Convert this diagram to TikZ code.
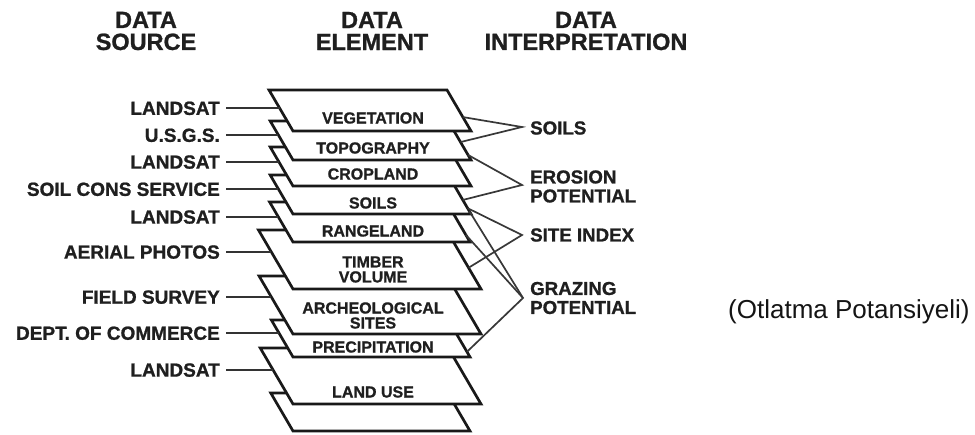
\documentclass[tikz,border=0pt]{standalone}
\usepackage{fontspec}
\setmainfont{Liberation Sans}
\newfontfamily\heavy{Liberation Sans}[BoldFeatures={FakeBold=1}]
\usetikzlibrary{calc}

% one map layer: name, top y, bottom y, width, label y, label text
\newcommand\maplayer[6]{%
  \pgfmathsetmacro\layerh{#3-#2}%
  \coordinate (#1-bl) at (293,#3);
  \coordinate (#1-br) at (293+#4,#3);
  \coordinate (#1-tl) at (293-0.585*\layerh,#2);
  \coordinate (#1-tr) at (293-0.585*\layerh+#4,#2);
  \draw[layerline] (#1-tl) -- (#1-tr) -- (#1-br) -- (#1-bl) -- cycle;
  \node[layertext] (#1) at (373,#5) {#6};
}

\begin{document}
\begin{tikzpicture}[x=1pt,y=-1pt,
  layerline/.style={draw=black!90, line width=2.7pt, fill=white, line join=miter},
  layertext/.style={font=\heavy\bfseries\fontsize{16}{15}\selectfont, align=center, text=black!88, inner sep=0pt},
  srctext/.style={font=\heavy\bfseries\fontsize{19}{19}\selectfont, text=black!88, inner sep=0pt, anchor=east, text height=13.6pt, text depth=0pt},
  srcline/.style={draw=black!80, line width=1.8pt},
  outtext/.style={font=\heavy\bfseries\fontsize{18.7}{19}\selectfont, text=black!88, inner sep=0pt, anchor=west, align=left},
  linkline/.style={draw=black!78, line width=1.7pt, line join=miter},
  headtext/.style={font=\heavy\bfseries\fontsize{23.5}{22}\selectfont, text=black!88, align=center, inner sep=0pt},
]
\fill[white] (0,0) rectangle (975,434);
\useasboundingbox (0,0) rectangle (975,434);

% column headings
\node[headtext] (hsrc) at (146,31) {DATA\\SOURCE};
\node[headtext] (helem) at (372,31) {DATA\\ELEMENT};
\node[headtext] (hint) at (586,31) {DATA\\INTERPRETATION};

% the stack of layers, lowest first
\maplayer{blank}{393}{431}{177}{412}{}
\maplayer{landuse}{348}{404}{188}{392}{LAND USE}
\maplayer{precip}{320}{357}{177}{347}{PRECIPITATION}
\maplayer{arch}{276}{334}{188}{315.5}{ARCHEOLOGICAL\\SITES}
\maplayer{timber}{230}{289}{188}{269.5}{TIMBER\\VOLUME}
\maplayer{range}{202}{242}{177}{231}{RANGELAND}
\maplayer{soils}{175}{214}{178}{203}{SOILS}
\maplayer{crop}{147}{186}{178}{174}{CROPLAND}
\maplayer{topo}{121}{160}{178}{148}{TOPOGRAPHY}
\maplayer{veg}{90}{131}{178}{118}{VEGETATION}

% attachment points on the left edges
\coordinate (veg-w) at ($(veg-tl)!0.44!(veg-bl)$);
\coordinate (topo-w) at ($(topo-tl)!0.36!(topo-bl)$);
\coordinate (crop-w) at ($(crop-tl)!0.38!(crop-bl)$);
\coordinate (soils-w) at ($(soils-tl)!0.36!(soils-bl)$);
\coordinate (range-w) at ($(range-tl)!0.37!(range-bl)$);
\coordinate (timber-w) at ($(timber-tl)!0.37!(timber-bl)$);
\coordinate (arch-w) at ($(arch-tl)!0.36!(arch-bl)$);
\coordinate (precip-w) at ($(precip-tl)!0.35!(precip-bl)$);
\coordinate (landuse-w) at ($(landuse-tl)!0.39!(landuse-bl)$);

% data sources
\node[srctext] (s1) at (veg-w -| 220,0) {LANDSAT};
\node[srctext] (s2) at (topo-w -| 220,0) {U.S.G.S.};
\node[srctext] (s3) at (crop-w -| 220,0) {LANDSAT};
\node[srctext] (s4) at (soils-w -| 220,0) {SOIL CONS SERVICE};
\node[srctext] (s5) at (range-w -| 220,0) {LANDSAT};
\node[srctext] (s6) at (timber-w -| 220,0) {AERIAL PHOTOS};
\node[srctext] (s7) at (arch-w -| 220,0) {FIELD SURVEY};
\node[srctext] (s8) at (precip-w -| 220,0) {DEPT. OF COMMERCE};
\node[srctext] (s9) at (landuse-w -| 220,0) {LANDSAT};

\draw[srcline, shorten <=6pt] (s1.east) -- (veg-w);
\draw[srcline, shorten <=6pt] (s2.east) -- (topo-w);
\draw[srcline, shorten <=6pt] (s3.east) -- (crop-w);
\draw[srcline, shorten <=6pt] (s4.east) -- (soils-w);
\draw[srcline, shorten <=6pt] (s5.east) -- (range-w);
\draw[srcline, shorten <=6pt] (s6.east) -- (timber-w);
\draw[srcline, shorten <=6pt] (s7.east) -- (arch-w);
\draw[srcline, shorten <=6pt] (s8.east) -- (precip-w);
\draw[srcline, shorten <=6pt] (s9.east) -- (landuse-w);

% attachment points on the right edges
\coordinate (veg-e1) at ($(veg-tr)!0.66!(veg-br)$);
\coordinate (topo-e1) at ($(topo-tr)!0.54!(topo-br)$);
\coordinate (topo-e2) at ($(topo-tr)!0.87!(topo-br)$);
\coordinate (soils-e1) at ($(soils-tr)!0.64!(soils-br)$);
\coordinate (soils-e2) at ($(soils-tr)!0.85!(soils-br)$);
\coordinate (soils-e3) at ($(soils-tr)!0.92!(soils-br)$);
\coordinate (range-e1) at ($(range-tr)!0.82!(range-br)$);
\coordinate (timber-e1) at ($(timber-tr)!0.64!(timber-br)$);
\coordinate (precip-e1) at ($(precip-tr)!0.86!(precip-br)$);

% interpretations
\coordinate (a1) at (522,127);
\coordinate (a2) at (522,185);
\coordinate (a3) at (522,235);
\coordinate (a4) at (523,298);
\node[outtext] (i1) at (530,128) {SOILS};
\node[outtext] (i2) at (530,186.5) {EROSION\\POTENTIAL};
\node[outtext] (i3) at (530,235) {SITE INDEX};
\node[outtext] (i4) at (530,298) {GRAZING\\POTENTIAL};

\draw[linkline] (veg-e1) -- (a1) -- (topo-e1);
\draw[linkline] (topo-e2) -- (a2) -- (soils-e1);
\draw[linkline] (soils-e2) -- (a3) -- (timber-e1);
\draw[linkline] (soils-e3) -- (a4) -- (precip-e1);
\draw[linkline] (range-e1) -- (a4);

\node[font=\fontsize{26}{26}\selectfont, text=black!92, anchor=west, inner sep=0pt] (turk) at (728,312) {(Otlatma Potansiyeli)};
\end{tikzpicture}
\end{document}
